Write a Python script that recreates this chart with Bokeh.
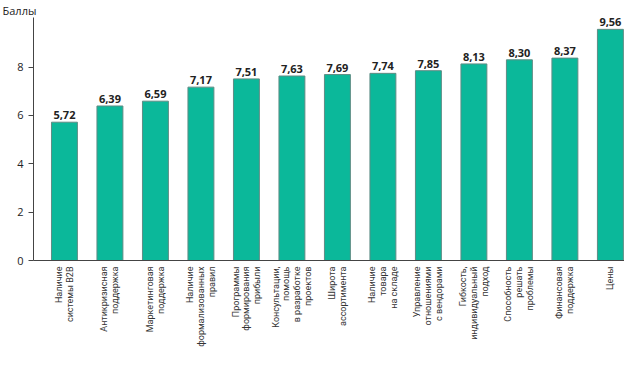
import math
from bokeh.plotting import figure
from bokeh.models import ColumnDataSource, FixedTicker, Range1d, LabelSet
from bokeh.core.properties import value
from bokeh.embed import file_html
from bokeh.resources import INLINE

categories = [
    "Наличие\nсистемы B2B",
    "Антикризисная\nподдержка",
    "Маркетинговая\nподдержка",
    "Наличие\nформализованных\nправил",
    "Программы\nформирования\nприбыли",
    "Консультации,\nпомощь\nв разработке\nпроектов",
    "Широта\nассортимента",
    "Наличие\nтовара\nна складе",
    "Управление\nотношениями\nс вендорами",
    "Гибкость,\nиндивидуальный\nподход",
    "Способность\nрешать\nпроблемы",
    "Финансовая\nподдержка",
    "Цены",
]
values = [5.72, 6.39, 6.59, 7.17, 7.51, 7.63, 7.69, 7.74, 7.85, 8.13, 8.30, 8.37, 9.56]
y_ticks = [0, 2, 4, 6, 8]
y_title = "Баллы"

xs = list(range(len(values)))
src = ColumnDataSource(dict(
    x=xs, top=values,
    lbl=[f"{v:.2f}".replace(".", ",") for v in values],
))

# each line of a category label is placed as its own vertical tick label
LINE_STEP = 0.24
line_ticks = []
line_texts = {}
for i, cat in enumerate(categories):
    lines = cat.split("\n")
    n = len(lines)
    for k, ln in enumerate(lines):
        t = round(i + (k - (n - 1) / 2) * LINE_STEP, 4)
        line_ticks.append(t)
        line_texts[t] = ln

p = figure(width=624, height=349, output_backend="svg", toolbar_location=None,
           x_range=Range1d(-0.68, 12.31), y_range=Range1d(0, 10.05),
           min_border_left=33, min_border_right=0, min_border_top=0, min_border_bottom=70)
p.outline_line_color = None
p.grid.grid_line_color = None

p.title.text = y_title
p.title.align = "left"
p.title.offset = -31
p.title.standoff = 0
p.title.text_font = "Open Sans"
p.title.text_font_size = "11px"
p.title.text_font_style = "normal"
p.title.text_color = "#222222"
p.title.text_line_height = 0.8

p.vbar(x="x", top="top", width=0.57, bottom=0, source=src,
       fill_color="#0bb89a", line_color="#5f8c84", line_width=1)

labels = LabelSet(x="x", y="top", text="lbl", source=src, y_offset=3,
                  text_align="center", text_baseline="bottom",
                  text_font=value("Open Sans"), text_font_size=value("11px"),
                  text_font_style="bold", text_color="#222222")
p.add_layout(labels)

p.yaxis.ticker = FixedTicker(ticks=y_ticks)
p.yaxis.major_tick_in = 0
p.yaxis.major_tick_out = 5
p.yaxis.minor_tick_line_color = None
p.yaxis.axis_line_color = "#444444"
p.yaxis.major_tick_line_color = "#444444"
p.yaxis.major_label_text_font = "Open Sans"
p.yaxis.major_label_text_font_size = "11px"
p.yaxis.major_label_text_color = "#222222"

p.xaxis.ticker = FixedTicker(ticks=line_ticks)
p.xaxis.major_label_overrides = line_texts
p.xaxis.major_label_orientation = math.pi / 2
p.xaxis.major_tick_line_color = None
p.xaxis.major_tick_in = 0
p.xaxis.major_tick_out = 0
p.xaxis.minor_tick_line_color = None
p.xaxis.minor_tick_in = 0
p.xaxis.minor_tick_out = 0
p.xaxis.axis_line_color = "#444444"
p.xaxis.major_label_text_font = "Roboto"
p.xaxis.major_label_text_font_size = "9px"
p.xaxis.major_label_text_color = "#333333"
p.xaxis.major_label_standoff = 6

open("out.html", "w").write(file_html(p, INLINE))
